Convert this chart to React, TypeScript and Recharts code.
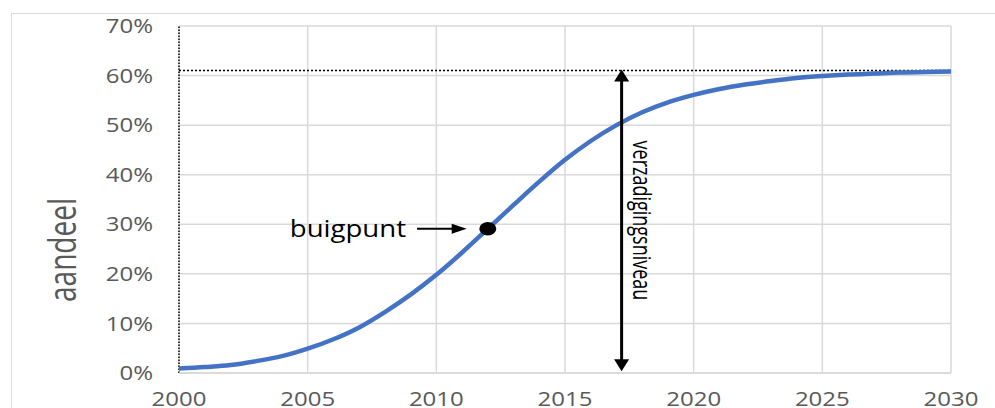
import React from 'react';
import { LineChart, Line, XAxis, YAxis, CartesianGrid, ReferenceLine, ReferenceDot } from 'recharts';

const years = [2000, 2001, 2002, 2003, 2004, 2005, 2006, 2007, 2008, 2009, 2010, 2011, 2012, 2013, 2014, 2015, 2016, 2017, 2018, 2019, 2020, 2021, 2022, 2023, 2024, 2025, 2026, 2027, 2028, 2029, 2030];
const share = [0.9, 1.2, 1.6, 2.4, 3.4, 4.9, 6.8, 9.2, 12.3, 15.8, 19.8, 24.3, 29.1, 33.9, 38.6, 43.0, 46.8, 50.0, 52.6, 54.6, 56.1, 57.3, 58.2, 58.9, 59.5, 59.9, 60.2, 60.4, 60.6, 60.7, 60.8];
const xTicks = [2000, 2005, 2010, 2015, 2020, 2025, 2030];
const yTicks = [0, 10, 20, 30, 40, 50, 60, 70];
const saturation = 61;
const inflectionYear = 2012;
const inflectionShare = 29.1;
const arrowYear = 2017.2;
const arrowBottom = 0.35;
const pointerFrom = 2009.25;
const pointerTo = 2011.18;
const yLabel = 'aandeel';
const inflectionLabel = 'buigpunt';
const saturationLabel = 'verzadigingsniveau';

const data = years.map((y, i) => ({ year: y, share: share[i] }));

const FONT = '"Open Sans", sans-serif';
const GRAY = '#595959';
const STRETCH = 1.2;

const XTick = (p: any) => (
  <g transform={`translate(${p.x},${p.y})`}>
    <text transform={`scale(${STRETCH},1)`} textAnchor="middle" dy="0.71em" fontSize={20} fill={GRAY} fontFamily={FONT}>
      {p.payload.value}
    </text>
  </g>
);

const YTick = (p: any) => (
  <g transform={`translate(${p.x},${p.y})`}>
    <text transform={`scale(${STRETCH},1)`} textAnchor="end" dy="0.355em" fontSize={20} fill={GRAY} fontFamily={FONT}>
      {p.payload.value}%
    </text>
  </g>
);

const YLabel = (p: any) => {
  const vb = p.viewBox || { x: 0, y: 26 };
  const cx = (vb.x || 0) + 61;
  const cy = (vb.y || 26) + 224;
  return (
    <text
      transform={`translate(${cx},${cy}) scale(1.4,1) rotate(-90)`}
      textAnchor="middle"
      dominantBaseline="central"
      fontSize={28}
      fill={GRAY}
      fontFamily={FONT}
    >
      {yLabel}
    </text>
  );
};

const VerticalArrow = (p: any) => {
  const x = p.x1;
  const top = Math.min(p.y1, p.y2) - 1;
  const bottom = Math.max(p.y1, p.y2);
  const hl = 12;
  const hw = 7.5;
  return (
    <g>
      <line x1={x} x2={x} y1={top + hl - 1} y2={bottom - hl + 1} stroke="#000" strokeWidth={3} />
      <polygon points={`${x},${top} ${x - hw},${top + hl} ${x + hw},${top + hl}`} fill="#000" />
      <polygon points={`${x},${bottom} ${x - hw},${bottom - hl} ${x + hw},${bottom - hl}`} fill="#000" />
      <text
        transform={`translate(${x + 11},${(top + bottom) / 2}) scale(1.4,1) rotate(90)`}
        textAnchor="middle"
        fontSize={18}
        fill="#000"
        fontFamily={FONT}
      >
        {saturationLabel}
      </text>
    </g>
  );
};

const PointerArrow = (p: any) => {
  const y = p.y1;
  const x1 = Math.min(p.x1, p.x2);
  const x2 = Math.max(p.x1, p.x2);
  return (
    <g>
      <line x1={x1} x2={x2 - 12} y1={y} y2={y} stroke="#000" strokeWidth={2} />
      <polygon points={`${x2},${y} ${x2 - 15},${y - 5} ${x2 - 15},${y + 5}`} fill="#000" />
      <g transform={`translate(${x1 - 11},${y + 8.5})`}>
        <text transform={`scale(${STRETCH},1)`} textAnchor="end" fontSize={23} fill="#000" fontFamily={FONT}>
          {inflectionLabel}
        </text>
      </g>
    </g>
  );
};

const Dot = (p: any) => <ellipse cx={p.cx} cy={p.cy} rx={8.5} ry={6.8} fill="#000" />;

export default function App() {
  return (
    <div style={{ position: 'absolute', left: 0, top: 0, width: 995, height: 408, overflow: 'hidden', background: '#fff' }}>
      <div
        style={{
          position: 'absolute',
          left: 11,
          top: 13,
          width: 1010,
          height: 420,
          border: '1.5px solid #d9d9d9',
          boxSizing: 'border-box',
          pointerEvents: 'none',
        }}
      />
      <div style={{ position: 'absolute', left: 0, top: 0 }}>
        <LineChart width={995} height={408} data={data} margin={{ top: 26, right: 44, bottom: 0, left: 0 }} style={{ fontFamily: FONT }}>
          <CartesianGrid stroke="#d9d9d9" strokeWidth={1.5} />
          <XAxis
            type="number"
            dataKey="year"
            domain={[2000, 2030]}
            ticks={xTicks}
            allowDataOverflow
            height={35}
            tickLine={false}
            tickSize={0}
            tickMargin={19}
            axisLine={{ stroke: '#d9d9d9', strokeWidth: 1.5 }}
            tick={<XTick />}
            interval={0}
          />
          <YAxis
            type="number"
            domain={[0, 70]}
            ticks={yTicks}
            width={179}
            tickLine={false}
            axisLine={false}
            tickSize={0}
            tickMargin={26}
            tick={<YTick />}
            interval={0}
            label={{ content: <YLabel /> } as any}
          />
          <ReferenceLine y={saturation} stroke="#000" strokeWidth={1.5} strokeDasharray="2 2" />
          <ReferenceLine x={2000} stroke="#000" strokeWidth={1.5} strokeDasharray="1.5 1.5" />
          <Line
            type="monotone"
            dataKey="share"
            stroke="#4472C4"
            strokeWidth={4.5}
            dot={false}
            activeDot={false}
            isAnimationActive={false}
          />
          <ReferenceLine
            segment={[{ x: arrowYear, y: arrowBottom }, { x: arrowYear, y: saturation }]}
            shape={<VerticalArrow />}
          />
          <ReferenceLine
            segment={[{ x: pointerFrom, y: inflectionShare }, { x: pointerTo, y: inflectionShare }]}
            shape={<PointerArrow />}
          />
          <ReferenceDot x={inflectionYear} y={inflectionShare} r={8} shape={<Dot />} />
        </LineChart>
      </div>
    </div>
  );
}
